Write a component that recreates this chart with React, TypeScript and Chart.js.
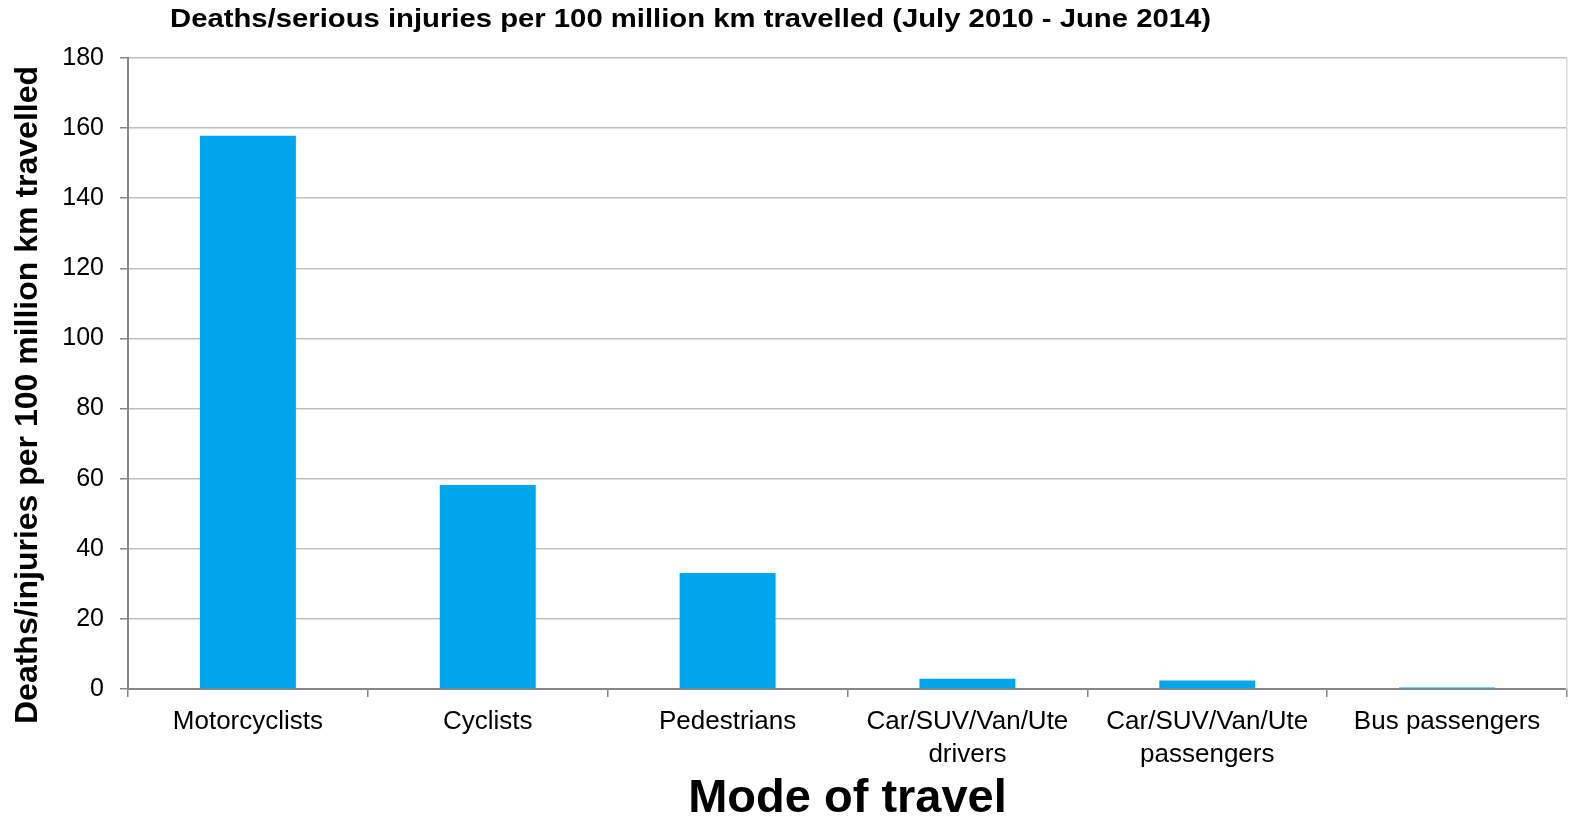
import React, { useEffect, useRef } from "react";
import { Chart, registerables } from "chart.js";

Chart.register(...registerables);

const categories: (string | string[])[] = [
  "Motorcyclists",
  "Cyclists",
  "Pedestrians",
  ["Car/SUV/Van/Ute", "drivers"],
  ["Car/SUV/Van/Ute", "passengers"],
  "Bus passengers",
];
const values: number[] = [157.8, 58.2, 33.1, 2.9, 2.4, 0.4];
const yMin = 0;
const yMax = 180;
const yStep = 20;

const chartTitle = "Deaths/serious injuries per 100 million km travelled (July 2010 - June 2014)";
const yTitle = "Deaths/injuries per 100 million km travelled";
const xTitle = "Mode of travel";

const FONT = '"Liberation Sans", Arial, sans-serif';

const titlesPlugin = {
  id: "customTitles",
  afterDraw(chart: any) {
    const ctx = chart.ctx as CanvasRenderingContext2D;
    const area = chart.chartArea;
    ctx.save();
    ctx.fillStyle = "#000000";
    // main title (wide rendering as in the reference)
    ctx.font = `bold 26px ${FONT}`;
    ctx.textBaseline = "middle";
    ctx.textAlign = "left";
    const w = ctx.measureText(chartTitle).width;
    ctx.save();
    ctx.translate(170, 20);
    ctx.scale(1041 / w, 1);
    ctx.fillText(chartTitle, 0, 0);
    ctx.restore();
    // y title
    ctx.save();
    ctx.font = `bold 32px ${FONT}`;
    ctx.textAlign = "center";
    ctx.textBaseline = "middle";
    ctx.translate(28, 395);
    ctx.rotate(-Math.PI / 2);
    ctx.fillText(yTitle, 0, 0);
    ctx.restore();
    // x title
    ctx.font = `bold 47px ${FONT}`;
    ctx.textAlign = "center";
    ctx.textBaseline = "middle";
    ctx.fillText(xTitle, (area.left + area.right) / 2, 799);
    ctx.restore();
  },
};

export default function App() {
  const ref = useRef<HTMLCanvasElement | null>(null);

  useEffect(() => {
    if (!ref.current) return;
    const chart = new Chart(ref.current, {
      type: "bar",
      data: {
        labels: categories,
        datasets: [
          {
            data: values,
            backgroundColor: "#00A6EB",
            borderWidth: 0,
            barPercentage: 0.4,
            categoryPercentage: 1,
          },
        ],
      },
      options: {
        responsive: false,
        animation: false,
        devicePixelRatio: 1,
        layout: { padding: { top: 58, left: 0, right: 0, bottom: 0 } },
        plugins: {
          legend: { display: false },
          title: { display: false },
          tooltip: { enabled: false },
        },
        scales: {
          x: {
            afterFit: (s: any) => {
              s.height = 135;
            },
            grid: {
              display: true,
              drawOnChartArea: false,
              offset: true,
              tickLength: 8,
              tickColor: "#868686",
              lineWidth: 1.5,
            },
            border: { display: true, color: "#868686", width: 2 },
            ticks: {
              color: "#000000",
              font: { family: FONT, size: 26, lineHeight: 1.25 },
              padding: 9,
              maxRotation: 0,
              autoSkip: false,
            },
          },
          y: {
            min: yMin,
            max: yMax,
            afterFit: (s: any) => {
              s.width = 128;
            },
            grid: {
              color: "#BFBFBF",
              lineWidth: 1.5,
              tickLength: 8,
              tickColor: "#868686",
            },
            border: { display: true, color: "#868686", width: 2 },
            ticks: {
              stepSize: yStep,
              color: "#000000",
              font: { family: FONT, size: 25 },
              padding: 16,
            },
          },
          y2: {
            position: "right",
            min: yMin,
            max: yMax,
            afterFit: (s: any) => {
              s.width = 2;
            },
            grid: { display: false },
            ticks: { display: false },
            border: { display: true, color: "#D9D9D9", width: 1.5 },
          },
        },
      },
      plugins: [titlesPlugin],
    });
    return () => chart.destroy();
  }, []);

  return (
    <div style={{ position: "absolute", left: 0, top: 0, width: 1569, height: 824, background: "#ffffff" }}>
      <canvas ref={ref} width={1569} height={824} style={{ display: "block" }} />
    </div>
  );
}
